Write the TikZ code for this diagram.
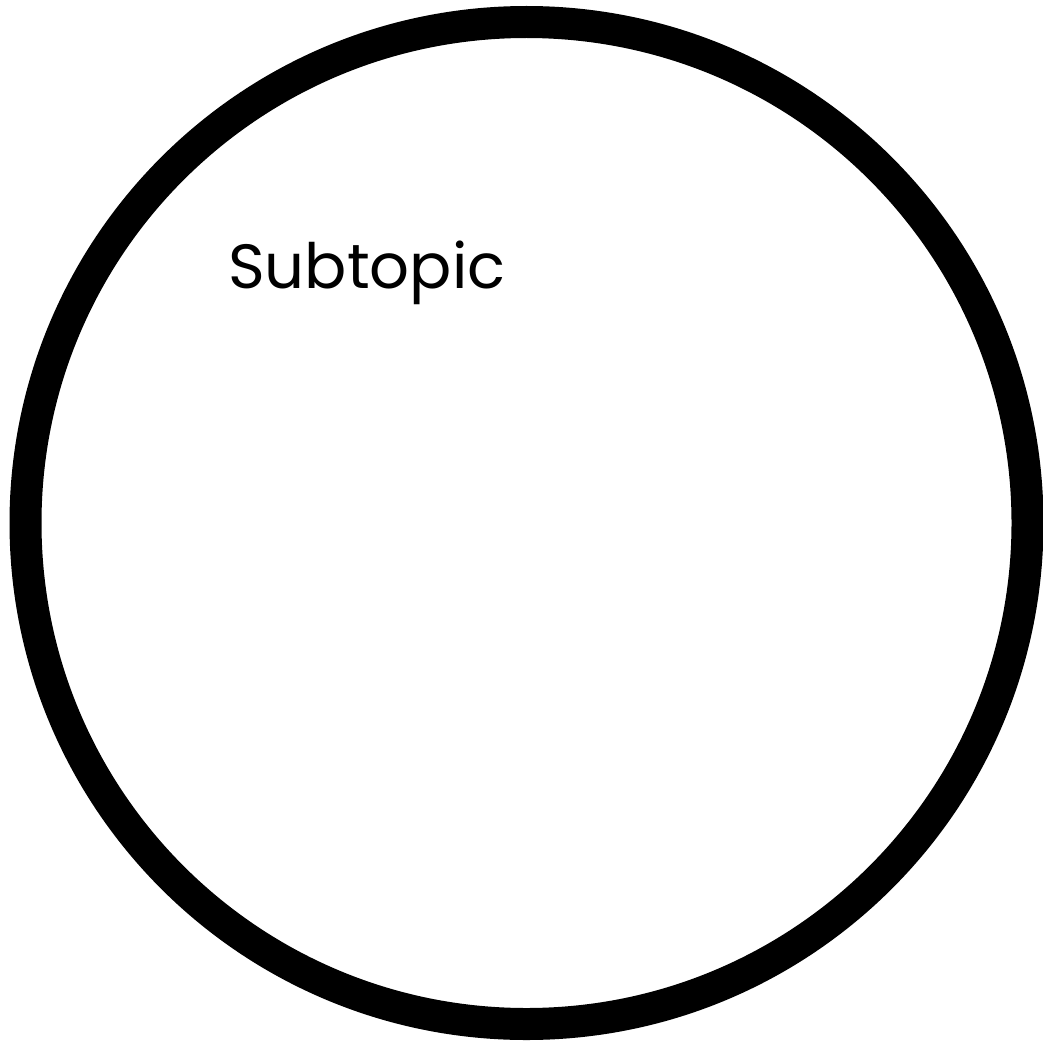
\documentclass[tikz,border=0pt]{standalone}
\usepackage{fontspec}
\setmainfont{Poppins}
\begin{document}
\begin{tikzpicture}[x=1pt,y=-1pt,
  ring/.style={draw=black,line width=32pt},
  label/.style={anchor=base west,inner sep=0pt,font=\fontsize{62.5}{75}\selectfont}]
\useasboundingbox[fill=white] (0,0) rectangle (1043,1046);
\node[ring,circle,minimum size=1002pt,inner sep=0pt] (c) at (526.5,523) {};
\node[label] (t) at (228,288) {Subtopic};
\end{tikzpicture}
\end{document}
